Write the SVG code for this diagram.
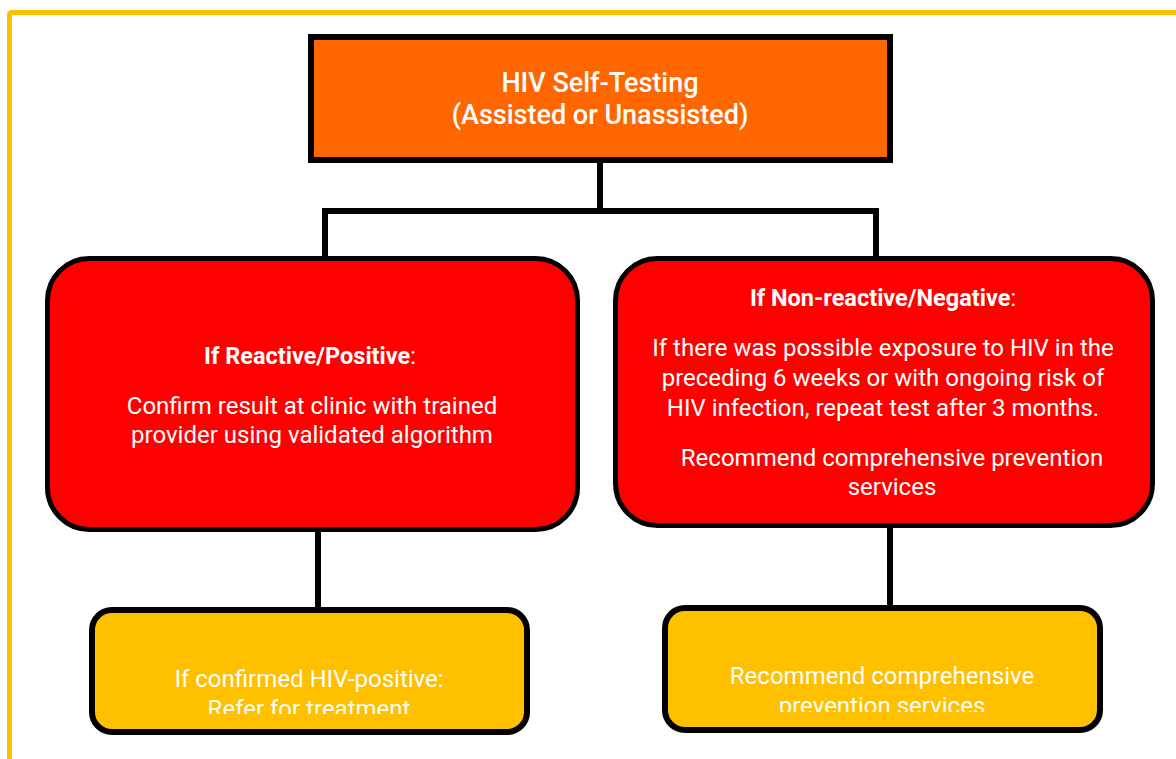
<svg xmlns="http://www.w3.org/2000/svg" width="1176" height="759" viewBox="0 0 1176 759">
<defs>
<style>
.t{font-family:Roboto,"Liberation Sans",sans-serif;fill:#fff;text-anchor:middle}
.b{font-weight:bold}
.node{stroke:#000}
.conn{stroke:#000;stroke-width:6;fill:none}
</style>
<clipPath id="clipL"><rect x="89" y="607" width="441" height="107"/></clipPath>
<clipPath id="clipR"><rect x="662" y="605" width="441" height="107"/></clipPath>
</defs>
<rect width="1176" height="759" fill="#fff"/>
<rect x="9.5" y="12.5" width="1200" height="800" rx="2" fill="none" stroke="#FFC000" stroke-width="5"/>
<g id="connectors">
<path class="conn" d="M600,160 V211 M322,211 H879 M325,208 V258 M876,208 V258"/>
<path class="conn" d="M318,530 V609"/>
<path class="conn" d="M890,526 V607"/>
</g>
<g id="top">
<rect class="node" x="311" y="37" width="579" height="123" fill="#FF6600" stroke-width="6"/>
<text class="t" x="600" y="92" font-size="27" font-weight="500">HIV Self-Testing</text>
<text class="t" x="600" y="124" font-size="27" font-weight="500">(Assisted or Unassisted)</text>
</g>
<g id="positive">
<rect class="node" x="47.5" y="258.5" width="530" height="271" rx="42" fill="#FF0000" stroke-width="5"/>
<text class="t" x="310" y="364" font-size="23.5"><tspan class="b">If Reactive/Positive</tspan>:</text>
<text class="t" x="312" y="414" font-size="24">Confirm result at clinic with trained</text>
<text class="t" x="312" y="443" font-size="24">provider using validated algorithm</text>
</g>
<g id="negative">
<rect class="node" x="615.5" y="258.5" width="537" height="267" rx="42" fill="#FF0000" stroke-width="5"/>
<text class="t" x="883" y="306" font-size="23.5"><tspan class="b">If Non-reactive/Negative</tspan>:</text>
<text class="t" x="883" y="356" font-size="24">If there was possible exposure to HIV in the</text>
<text class="t" x="883" y="386" font-size="24">preceding 6 weeks or with ongoing risk of</text>
<text class="t" x="883" y="416" font-size="24">HIV infection, repeat test after 3 months.</text>
<text class="t" x="892" y="466" font-size="24">Recommend comprehensive prevention</text>
<text class="t" x="892" y="495" font-size="24">services</text>
</g>
<g id="confirmed">
<rect class="node" x="92" y="610" width="435" height="122" rx="20" fill="#FFC000" stroke-width="6"/>
<g clip-path="url(#clipL)">
<text class="t" x="309" y="687" font-size="24">If confirmed HIV-positive:</text>
<text class="t" x="309" y="717" font-size="24">Refer for treatment</text>
</g>
</g>
<g id="prevention">
<rect class="node" x="665" y="608" width="435" height="122" rx="20" fill="#FFC000" stroke-width="6"/>
<g clip-path="url(#clipR)">
<text class="t" x="882" y="684" font-size="24">Recommend comprehensive</text>
<text class="t" x="882" y="714" font-size="24">prevention services</text>
</g>
</g>
</svg>
